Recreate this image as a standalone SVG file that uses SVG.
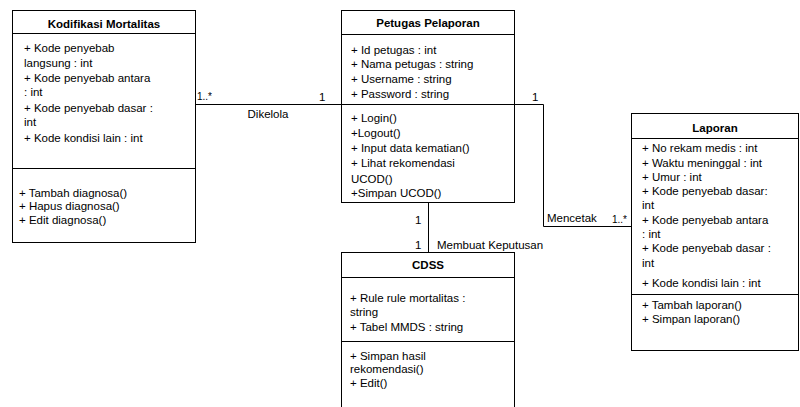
<svg xmlns="http://www.w3.org/2000/svg" width="800" height="407" viewBox="0 0 800 407">
<style>
.box{fill:#fff;stroke:#000;stroke-width:1}
.ln{stroke:#000;stroke-width:1;fill:none}
text{font-family:"Liberation Sans",Arial,sans-serif;font-size:11.5px;fill:#000}
.t{font-weight:bold;text-anchor:middle}
.c{text-anchor:middle}
.s{font-size:10px}
</style>
<rect width="800" height="407" fill="#fff"/>
<g id="connectors">
<path class="ln" d="M195.5,104.5 H341.5"/>
<path class="ln" d="M514.5,104.5 H543.5 V226.5 H631.5"/>
<path class="ln" d="M428.5,202 V252"/>
<text x="197" y="100" class="s">1..*</text>
<text x="319" y="101">1</text>
<text x="268" y="118" class="c">Dikelola</text>
<text x="532" y="101">1</text>
<text x="547" y="222">Mencetak</text>
<text x="612" y="223" class="s">1..*</text>
<text x="415" y="224">1</text>
<text x="415" y="249">1</text>
<text x="437" y="249">Membuat Keputusan</text>
</g>
<g id="kodifikasi">
<rect class="box" x="12.5" y="10.5" width="183" height="232"/>
<path class="ln" d="M12.5,33.5 H195.5 M12.5,168.5 H195.5"/>
<text x="104" y="28" class="t">Kodifikasi Mortalitas</text>
<text x="24" y="52">+ Kode penyebab</text>
<text x="24" y="67">langsung : int</text>
<text x="24" y="82">+ Kode penyebab antara</text>
<text x="24" y="96">: int</text>
<text x="24" y="112">+ Kode penyebab dasar :</text>
<text x="24" y="126">int</text>
<text x="24" y="142">+ Kode kondisi lain : int</text>
<text x="19" y="197">+ Tambah diagnosa()</text>
<text x="19" y="210">+ Hapus diagnosa()</text>
<text x="19" y="224">+ Edit diagnosa()</text>
</g>
<g id="petugas">
<rect class="box" x="341.5" y="10.5" width="173" height="192"/>
<path class="ln" d="M341.5,34.5 H514.5 M341.5,104.5 H514.5"/>
<text x="428" y="27" class="t">Petugas Pelaporan</text>
<text x="351" y="54">+ Id petugas : int</text>
<text x="351" y="68">+ Nama petugas : string</text>
<text x="351" y="83">+ Username : string</text>
<text x="351" y="98">+ Password : string</text>
<text x="351" y="122">+ Login()</text>
<text x="351" y="137">+Logout()</text>
<text x="351" y="152">+ Input data kematian()</text>
<text x="351" y="167">+ Lihat rekomendasi</text>
<text x="351" y="183">UCOD()</text>
<text x="351" y="197">+Simpan UCOD()</text>
</g>
<g id="laporan">
<rect class="box" x="631.5" y="113.5" width="167" height="237"/>
<path class="ln" d="M631.5,138.5 H798.5 M631.5,294.5 H798.5"/>
<text x="715" y="132" class="t">Laporan</text>
<text x="642" y="152">+ No rekam medis : int</text>
<text x="642" y="167">+ Waktu meninggal : int</text>
<text x="642" y="181">+ Umur : int</text>
<text x="642" y="195">+ Kode penyebab dasar:</text>
<text x="642" y="209">int</text>
<text x="642" y="224">+ Kode penyebab antara</text>
<text x="642" y="238">: int</text>
<text x="642" y="252">+ Kode penyebab dasar :</text>
<text x="642" y="267">int</text>
<text x="642" y="287">+ Kode kondisi lain : int</text>
<text x="642" y="309">+ Tambah laporan()</text>
<text x="642" y="323">+ Simpan laporan()</text>
</g>
<g id="cdss">
<rect class="box" x="341.5" y="252.5" width="173" height="170"/>
<path class="ln" d="M341.5,277.5 H514.5 M341.5,341.5 H514.5"/>
<text x="428" y="269" class="t">CDSS</text>
<text x="350" y="302">+ Rule rule mortalitas :</text>
<text x="350" y="316">string</text>
<text x="350" y="331">+ Tabel MMDS : string</text>
<text x="350" y="360">+ Simpan hasil</text>
<text x="350" y="373">rekomendasi()</text>
<text x="350" y="387">+ Edit()</text>
</g>
</svg>
